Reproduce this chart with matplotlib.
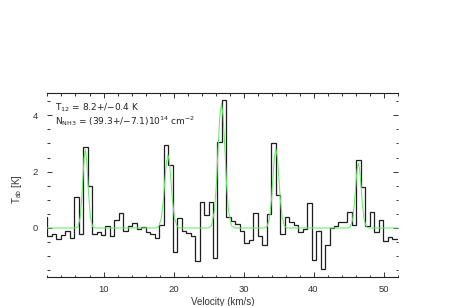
import numpy as np
import matplotlib
matplotlib.use("Agg")
import matplotlib.pyplot as plt
from matplotlib.ticker import MultipleLocator

# observed NH3 spectrum, one value per channel (K), channels 0.64 km/s wide
first_edge = 1.32
chan_width = 0.64
T_obs = [0.4, -0.3, -0.2, -0.4, -0.25, -0.1, -0.35, 1.1, -0.2, 2.88,
         1.5, -0.2, -0.15, -0.25, 0.08, -0.3, 0.28, 0.52, -0.1, 0.08,
         0.17, -0.05, 0.05, -0.13, -0.2, -0.35, 0.1, 2.95, 2.23, -0.87,
         0.37, -0.1, -0.19, -0.3, -1.18, 0.92, 0.45, 0.92, -1.07, 3.05,
         4.55, 0.4, 0.25, 0.15, -0.1, -0.55, -0.42, 0.52, -0.3, -0.6,
         0.5, 3.0, 1.18, -0.2, 0.38, 0.2, 0.1, -0.15, -0.05, 0.9,
         -1.14, -0.12, -1.45, -0.6, 0.0, 0.08, 0.2, 0.22, 0.56, 0.1,
         2.41, 1.45, 0.07, 0.55, -0.15, 0.3, -0.46, -0.32, -0.38, -0.4]

# hyperfine fit (green)
fit_v = [1.9,
         6.02, 6.37, 6.67, 6.88, 7.06, 7.23, 7.4, 7.57, 7.74, 7.92, 8.13, 8.43, 8.78,
         17.44, 17.88, 18.26, 18.54, 18.76, 18.98, 19.2, 19.42, 19.64, 19.86, 20.14, 20.52, 20.96,
         24.95, 25.42, 25.84, 26.14, 26.37, 26.61, 26.85, 27.09, 27.33, 27.56, 27.86, 28.28, 28.75,
         32.94, 33.36, 33.73, 34.0, 34.2, 34.41, 34.62, 34.83, 35.04, 35.25, 35.51, 35.88, 36.3,
         44.88, 45.26, 45.59, 45.83, 46.02, 46.21, 46.4, 46.59, 46.78, 46.97, 47.21, 47.54, 47.92,
         52.2]
fit_T = [0.0,
         0.0, 0.05, 0.38, 1.03, 1.78, 2.49, 2.78, 2.49, 1.78, 1.03, 0.38, 0.05, 0.0,
         0.0, 0.05, 0.35, 0.96, 1.67, 2.33, 2.6, 2.33, 1.67, 0.96, 0.35, 0.05, 0.0,
         0.0, 0.08, 0.6, 1.63, 2.84, 3.96, 4.42, 3.96, 2.84, 1.63, 0.6, 0.08, 0.0,
         0.0, 0.05, 0.38, 1.03, 1.8, 2.51, 2.8, 2.51, 1.8, 1.03, 0.38, 0.05, 0.0,
         0.0, 0.04, 0.31, 0.85, 1.48, 2.06, 2.3, 2.06, 1.48, 0.85, 0.31, 0.04, 0.0,
         0.0]

x_ticks = [10, 20, 30, 40, 50]
y_ticks = [0, 2, 4]

edges = first_edge + chan_width * np.arange(len(T_obs) + 1)

plt.rcParams["font.family"] = ["Liberation Sans", "DejaVu Sans"]
plt.rcParams["mathtext.default"] = "regular"

fig = plt.figure(figsize=(4.63, 3.06), dpi=100)
ax = fig.add_axes([47 / 463, 29 / 306, 351 / 463, 184 / 306])

ax.stairs(T_obs, edges, baseline=None, color="#1e1e1e", lw=0.9, zorder=2)
ax.plot(fit_v, fit_T, color="#66ea66", lw=0.75, zorder=3)

ax.set_xlim(1.93, 52.06)
ax.set_ylim(-1.74, 4.79)

ax.xaxis.set_minor_locator(MultipleLocator(2))
ax.yaxis.set_minor_locator(MultipleLocator(0.5))
ax.set_xticks(x_ticks)
ax.set_yticks(y_ticks)

ax.tick_params(which="both", direction="in", top=True, right=True,
               color="#333333", width=0.7)
ax.tick_params(which="major", length=3.5)
ax.tick_params(which="minor", length=1.8)
ax.tick_params(axis="x", labelsize=6.8, pad=5.5, labelcolor="#333333")
ax.tick_params(axis="y", labelsize=6.8, pad=6.5, labelcolor="#333333")

ax.spines["left"].set_visible(False)
ax.spines["right"].set_visible(False)
for s in ("top", "bottom"):
    ax.spines[s].set_color("#222222")
    ax.spines[s].set_linewidth(0.8)

fig.text(222.5 / 463, 1 - 302 / 306, "Velocity (km/s)", ha="center", va="center",
         fontsize=7, color="#333333")
fig.text(17 / 463, 1 - 189 / 306, "T$_{ab}$ [K]", ha="center", va="center",
         rotation=90, fontsize=7, color="#333333")

fig.text(55 / 463, 1 - 111 / 306, "T$_{12}$ = 8.2+/\u22120.4 K",
         ha="left", va="baseline", fontsize=6.5, family="DejaVu Sans", color="#222222")
fig.text(55 / 463, 1 - 124.5 / 306, "N$_{NH3}$ = (39.3+/\u22127.1)10$^{14}$ cm$^{-2}$",
         ha="left", va="baseline", fontsize=6.5, family="DejaVu Sans", color="#222222")

fig.savefig("out.png", dpi=100)
